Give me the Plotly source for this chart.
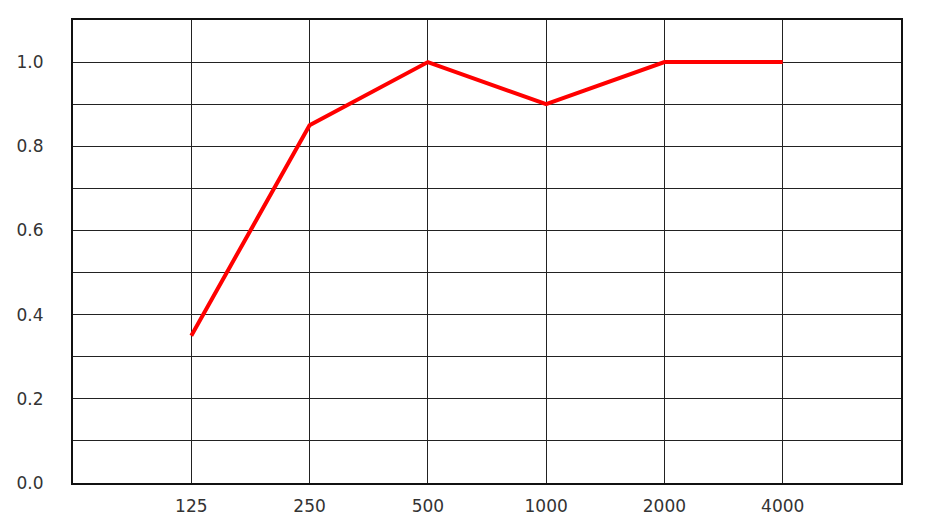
import plotly.graph_objects as go

categories = ["125", "250", "500", "1000", "2000", "4000"]
positions = [1, 2, 3, 4, 5, 6]
values = [0.35, 0.85, 1.0, 0.9, 1.0, 1.0]
y_ticks = [0.0, 0.2, 0.4, 0.6, 0.8, 1.0]
y_labels = ["0.0", "0.2", "0.4", "0.6", "0.8", "1.0"]

fig = go.Figure()
fig.add_trace(go.Scatter(x=positions, y=values, mode="lines",
                         line=dict(color="#FF0000", width=4),
                         hoverinfo="skip", showlegend=False))

font = dict(family="'DejaVu Sans', sans-serif", size=17, color="#333333")

fig.update_layout(
    width=940, height=527,
    margin=dict(l=65, r=47, t=12, b=52),
    paper_bgcolor="white", plot_bgcolor="white",
    font=font,
    xaxis=dict(range=[0, 7], tickvals=positions, ticktext=categories,
               showgrid=True, gridcolor="#222222", gridwidth=1,
               zeroline=False, showline=True, linecolor="#111111", linewidth=2,
               mirror=True, ticks="", ticklabelstandoff=7, fixedrange=True,
               automargin=False),
    yaxis=dict(range=[0, 1.1], tickvals=y_ticks, ticktext=y_labels,
               showgrid=True, gridcolor="#222222", gridwidth=1,
               minor=dict(dtick=0.1, tick0=0, showgrid=True, gridcolor="#222222", gridwidth=1),
               zeroline=False, showline=True, linecolor="#111111", linewidth=2,
               mirror=True, ticks="", ticklabelstandoff=24, fixedrange=True,
               automargin=False),
)

fig.write_html("out.html")
